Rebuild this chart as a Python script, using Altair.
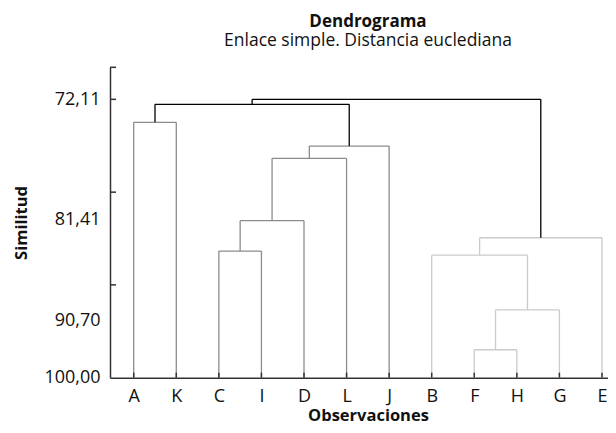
import altair as alt
import pandas as pd

# ---- data ----
leaves = ["A", "K", "C", "I", "D", "L", "J", "B", "F", "H", "G", "E"]
merge_left = ["F", "m1", "B", "m3", "C", "m5", "m6", "m7", "A", "m9", "m10"]
merge_right = ["H", "G", "m2", "E", "I", "D", "L", "J", "K", "m8", "m4"]
merge_height = [97.20, 93.20, 87.72, 85.98, 87.31, 84.27, 78.02, 76.79, 74.41, 72.61, 72.11]
merge_group = ["claro", "claro", "claro", "claro",
               "medio", "medio", "medio", "medio", "medio",
               "raiz", "raiz"]
y_tick_values = [72.11, 81.41, 90.70, 100.00]
y_top = 68.90
leaf_height = 100.0

# ---- build dendrogram segments ----
pos = {name: i + 1 for i, name in enumerate(leaves)}
hgt = {name: leaf_height for name in leaves}
rows = []
for i, (l, r, h, g) in enumerate(zip(merge_left, merge_right, merge_height, merge_group)):
    xl, xr = pos[l], pos[r]
    rows.append(dict(x=xl, x2=xl, y=hgt[l], y2=h, g=g))
    rows.append(dict(x=xr, x2=xr, y=hgt[r], y2=h, g=g))
    rows.append(dict(x=xl, x2=xr, y=h, y2=h, g=g))
    pos[f"m{i+1}"] = (xl + xr) / 2
    hgt[f"m{i+1}"] = h
seg = pd.DataFrame(rows)
leaf_df = pd.DataFrame({"x": list(range(1, len(leaves) + 1)), "name": leaves})
ytick_df = pd.DataFrame({"y": [y_top] + y_tick_values[:-1]})

W, H = 498, 310.4
FONT = "Open Sans"
label_array = "[" + ",".join(f"'{s}'" for s in leaves) + "]"

xscale = alt.Scale(domain=[0.443, 12.141], nice=False, zero=False)
yscale = alt.Scale(domain=[y_top, 100.0], reverse=True, nice=False, zero=False)

lines = alt.Chart(seg).mark_rule(strokeWidth=1.3).encode(
    x=alt.X("x:Q", scale=xscale,
            axis=alt.Axis(values=list(range(1, len(leaves) + 1)),
                          labelExpr=f"{label_array}[datum.value-1]",
                          title="Observaciones", grid=False, tickSize=0,
                          labelPadding=10, titlePadding=2,
                          domainColor="#333333", domainWidth=1.5,
                          labelFont=FONT, labelFontSize=18, labelColor="#111111",
                          titleFont=FONT, titleFontSize=16.5, titleFontWeight="bold",
                          titleColor="#111111", titleX=258)),
    x2="x2:Q",
    y=alt.Y("y:Q", scale=yscale,
            axis=alt.Axis(values=y_tick_values,
                          labelExpr="replace(format(datum.value, '.2f'), '.', ',')",
                          labelOffset={"condition": [
                              {"test": "datum.value > 80 && datum.value < 83", "value": 27},
                              {"test": "datum.value > 89 && datum.value < 92", "value": 36}],
                              "value": 0},
                          title="Similitud", grid=False, tickSize=0,
                          labelPadding=10, labelFont=FONT, labelFontSize=18,
                          labelColor="#111111",
                          domainColor="#333333", domainWidth=1.5,
                          titleFont=FONT, titleFontSize=16.5, titleFontWeight="bold",
                          titleColor="#111111", titleX=-89,
                          titleAngle=270, titleAlign="center", titleBaseline="middle")),
    y2="y2:Q",
    color=alt.Color("g:N", scale=alt.Scale(domain=["raiz", "medio", "claro"],
                                           range=["#000000", "#8c8c8c", "#cbcbcb"]),
                    legend=None),
)

xticks = alt.Chart(leaf_df).mark_rule(color="#333333", strokeWidth=1.5).encode(
    x=alt.X("x:Q", scale=xscale),
    y=alt.value(H),
    y2=alt.value(H - 5),
)

yticks = alt.Chart(ytick_df).mark_rule(color="#333333", strokeWidth=1.5).encode(
    y=alt.Y("y:Q", scale=yscale),
    x=alt.value(0),
    x2=alt.value(6),
)

chart = alt.layer(lines, xticks, yticks).properties(
    width=W, height=H,
    title=alt.TitleParams(
        text="Dendrograma",
        subtitle="Enlace simple. Distancia euclediana",
        anchor="middle", dx=9, offset=16,
        font=FONT, fontSize=17, fontWeight="bold", color="#111111",
        subtitleFont=FONT, subtitleFontSize=17.5, subtitleColor="#111111",
        subtitlePadding=1,
    ),
    autosize=alt.AutoSizeParams(type="none"),
    padding={"left": 102, "top": 59.3, "right": 0, "bottom": 47},
).configure_view(stroke=None)

chart.save("out.html", embed_options={"renderer": "svg", "actions": False})
